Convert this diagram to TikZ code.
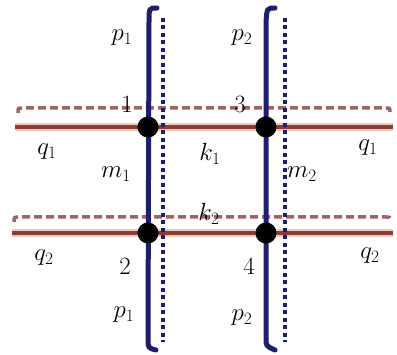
\documentclass[tikz,border=0pt]{standalone}
\definecolor{navy}{RGB}{28,30,110}
\definecolor{brownl}{RGB}{140,60,50}
\definecolor{pinkglow}{RGB}{240,200,195}
\definecolor{dashbrown}{RGB}{160,100,100}
\begin{document}
\begin{tikzpicture}[x=1pt,y=-1pt,
  solidv/.style={navy,line width=5pt,line cap=round},
  dotv/.style={navy,line width=4.5pt,dash pattern=on 4pt off 3.5pt},
  glowh/.style={pinkglow,line width=8pt},
  solidh/.style={brownl,line width=3.5pt},
  dashh/.style={dashbrown,line width=3.5pt,dash pattern=on 8pt off 4pt},
  vertex/.style={circle,fill=black,inner sep=0pt,minimum size=21pt},
  lab/.style={inner sep=0pt,font=\fontsize{25}{28}\selectfont}]
\useasboundingbox (0,0) rectangle (397,355);
% coordinates
\coordinate (v1t) at (149,22); \coordinate (v1b) at (148,338);
\coordinate (v2t) at (266,22); \coordinate (v2b) at (266,338);
\coordinate (d1t) at (163,18); \coordinate (d1b) at (163,342);
\coordinate (d2t) at (285,18); \coordinate (d2b) at (285,342);
\coordinate (h1l) at (15,127); \coordinate (h1r) at (393,127);
\coordinate (h2l) at (12,233); \coordinate (h2r) at (393,233);
\coordinate (e1l) at (22,108); \coordinate (e1r) at (386,108);
\coordinate (e2l) at (20,217); \coordinate (e2r) at (386,217);
% horizontal glows and lines
\draw[glowh] (h1l) -- (h1r);
\draw[glowh] (h2l) -- (h2r);
\draw[solidh] (h1l) -- (h1r);
\draw[solidh] (h2l) -- (h2r);
\draw[dashh] (18,113) .. controls (18,108) .. (e1l) -- (e1r) .. controls (390,108) .. (390,112);
\draw[dashh] (14,222) .. controls (14,217) .. (e2l) -- (e2r) .. controls (390,217) .. (390,221);
% vertical lines
\draw[dotv] (d1t) -- (d1b);
\draw[dotv] (d2t) -- (d2b);
\draw[solidv] (157,8) .. controls (149,8) .. (v1t) -- (v1b) .. controls (148,348) .. (156,350);
\draw[solidv] (275,8) .. controls (267,8) .. (v2t) -- (v2b) .. controls (266,346) .. (275,350);
% vertices
\node[vertex] (n1) at (148,127) {};
\node[vertex] (n3) at (266,127) {};
\node[vertex] (n2) at (148,233) {};
\node[vertex] (n4) at (266,233) {};
% labels
\node[lab] (lp1t) at (122,38) {$p_1$};
\node[lab] (lp2t) at (242,38) {$p_2$};
\node[lab] (l1) at (127,104) {$1$};
\node[lab] (l3) at (240,104) {$3$};
\node[lab] (lq1l) at (47,152) {$q_1$};
\node[lab] (lq1r) at (368,148) {$q_1$};
\node[lab] (lk1) at (210,154) {$k_1$};
\node[lab] (lm1) at (116,174) {$m_1$};
\node[lab] (lm2) at (302,174) {$m_2$};
\node[lab] (lk2) at (209,214) {$k_2$};
\node[lab] (lq2l) at (44,258) {$q_2$};
\node[lab] (lq2r) at (370,256) {$q_2$};
\node[lab] (l2) at (125,266) {$2$};
\node[lab] (l4) at (249,266) {$4$};
\node[lab] (lp1b) at (124,315) {$p_1$};
\node[lab] (lp2b) at (242,318) {$p_2$};
\end{tikzpicture}
\end{document}
